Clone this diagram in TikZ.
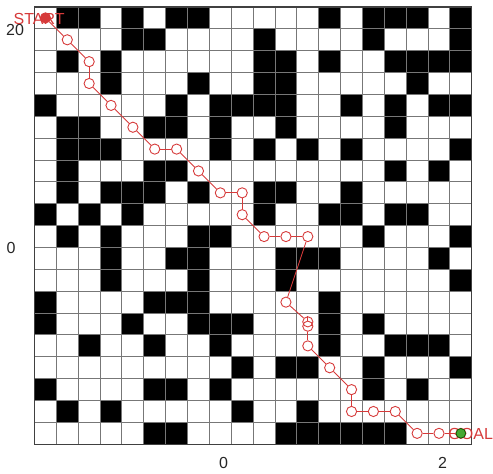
\documentclass[tikz,border=0pt]{standalone}
\usepackage{fontspec}
\setmainfont{Liberation Sans}
\usetikzlibrary{positioning}
\definecolor{mzRed}{HTML}{D63A3A}
\definecolor{mzGreen}{HTML}{46A832}
\definecolor{mzGrid}{HTML}{777777}
\tikzset{
  wall/.style={fill=black},
  wp/.style={draw=mzRed, circle, minimum size=2.8mm, inner sep=0pt, line width=0.7pt},
  lnk/.style={draw=mzRed, line width=0.7pt},
  ticklbl/.style={font=\fontsize{12.5}{14}\selectfont, text=black!85},
  tag/.style={font=\fontsize{12.5}{14}\selectfont, text=mzRed, inner sep=0pt},
}

\begin{document}
\begin{tikzpicture}[x=0.6cm, y=0.6cm]
  \useasboundingbox (-1.578,-1.317) rectangle (20.97,20.32);
  % walls, row by row from the top
  \foreach \r/\cs in {0/{1,2,4,6,7,13,15,16,17,19}, 1/{4,5,10,15,19},
      2/{1,3,10,11,13,16,17,18,19}, 3/{3,7,10,11,17},
      4/{0,6,8,9,10,11,14,16,18,19}, 5/{1,2,5,6,8,11,16},
      6/{1,2,3,8,10,12,14,19}, 7/{1,5,6,16,18},
      8/{1,3,4,5,7,10,11,14}, 9/{0,2,4,10,13,14,16,17},
      10/{1,3,7,8,15,19}, 11/{3,6,7,11,12,13,18},
      12/{3,7,11,19}, 13/{0,5,6,7,13},
      14/{0,4,7,8,9,13,15}, 15/{2,5,8,13,16,17,18},
      16/{9,11,12,15,19}, 17/{0,5,6,8,15,17},
      18/{1,3,9,12}, 19/{5,6,11,12,13,14,15,16}} {
    \foreach \c in \cs {
      \fill[wall] (\c,19-\r) rectangle ++(1,1);
    }
  }
  \draw[mzGrid, line width=0.8pt, step=1] (0,0) grid (20,20);
  \draw[black!75, line width=0.9pt] (0,0) rectangle (20,20);
  % the path
  \foreach \x/\y [count=\i from 0] in {0.5/19.5, 1.5/18.5, 2.5/17.5, 2.5/16.5,
      3.5/15.5, 4.5/14.5, 5.5/13.5, 6.5/13.5, 7.5/12.5, 8.5/11.5, 9.5/11.5,
      9.5/10.5, 10.5/9.5, 11.5/9.5, 12.5/9.5, 11.5/6.5, 12.5/5.6, 12.5/5.4,
      12.5/4.5, 13.5/3.5, 14.5/2.5, 14.5/1.5, 15.5/1.5, 16.5/1.5, 17.5/0.5,
      18.5/0.5, 19.5/0.5} {
    \node[wp] (p\i) at (\x,\y) {};
  }
  \foreach \i [count=\j] in {0,...,25} {
    \draw[lnk] (p\i) -- (p\j);
  }
  % axis ticks
  \node[ticklbl] (t20) at (-0.89,18.97) {20};
  \node[ticklbl] (ty0) at (-1.075,9.0) {0};
  \node[ticklbl] (tx0) at (8.65,-0.84) {0};
  \node[ticklbl] (tx2) at (18.66,-0.84) {2};
  % start and goal
  \node[tag] (start) at (0.21,19.43) {START};
  \node[tag, anchor=west] (goal) at (18.92,0.47) {GOAL};
  \fill[mzRed] (p0) circle (0.23);
  \filldraw[fill=mzGreen, draw=green!35!black, line width=0.5pt] (p26) circle (0.22);
\end{tikzpicture}
\end{document}
